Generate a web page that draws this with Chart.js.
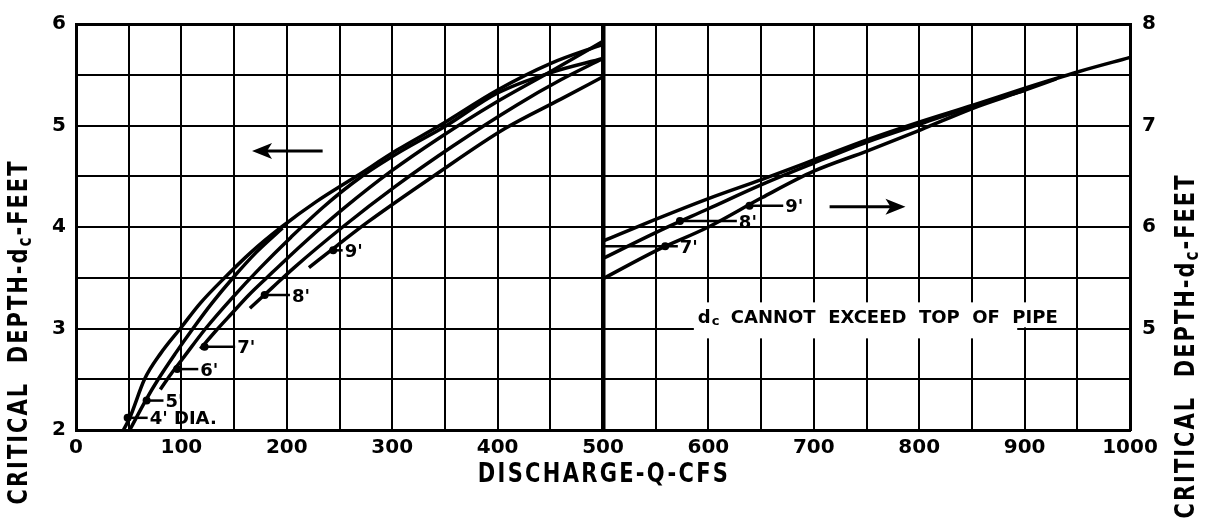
<!DOCTYPE html>
<html>
<head>
<meta charset="utf-8">
<script src="https://cdn.jsdelivr.net/npm/chart.js@4.4.1/dist/chart.umd.min.js"></script>
<style>
  body { margin: 0; background: #fff; }
</style>
</head>
<body>
<canvas id="myChart" width="1207" height="519"></canvas>
<script>
// discharge Q (cfs) and critical depth dc (ft), one pair per pipe size
// left half (Q 0-500), read on the left depth scale
const q4 = [45, 51, 65, 80, 99, 118, 141, 166, 195, 228, 266, 305, 345, 400, 450, 500];
const dc4 = [2.0, 2.12, 2.5, 2.75, 3.0, 3.25, 3.5, 3.75, 4.0, 4.25, 4.5, 4.76, 5.0, 5.35, 5.61, 5.8];
const q5 = [51, 66, 78, 94, 111, 129, 149, 171, 196];
const dc5 = [2.0, 2.29, 2.5, 2.75, 3.0, 3.25, 3.5, 3.75, 3.99];
const q6 = [80, 90, 101, 123, 148, 175, 204, 235, 270, 309, 350, 400, 450, 500];
const dc6 = [2.4, 2.55, 2.7, 3.0, 3.3, 3.6, 3.9, 4.2, 4.49, 4.75, 4.99, 5.32, 5.52, 5.66];
const q7 = [118, 133, 148, 164, 181, 217, 256, 299, 345, 397, 450, 500];
const dc7 = [2.8, 2.98, 3.15, 3.33, 3.5, 3.85, 4.2, 4.55, 4.88, 5.22, 5.53, 5.83];
const q8 = [165, 186, 207, 253, 303, 358, 418, 460, 500];
const dc8 = [3.2, 3.4, 3.6, 4.0, 4.4, 4.8, 5.2, 5.45, 5.66];
const q9 = [221, 248, 277, 339, 407, 460, 500];
const dc9 = [3.6, 3.82, 4.05, 4.5, 4.97, 5.26, 5.48];

// right half (Q 500-1000), read on the right depth scale
const q7r = [500, 551, 600, 651, 700, 751, 802, 851, 901, 951, 1000];
const dc7r = [5.86, 6.08, 6.28, 6.47, 6.66, 6.86, 7.04, 7.2, 7.37, 7.53, 7.67];
const q8r = [500, 551, 600, 651, 700, 751, 802, 851, 901];
const dc8r = [5.69, 5.95, 6.18, 6.42, 6.63, 6.84, 7.02, 7.19, 7.35];
const q9r = [500, 551, 600, 651, 700, 751, 802, 851, 901, 930];
const dc9r = [5.49, 5.77, 6.0, 6.29, 6.55, 6.75, 6.96, 7.17, 7.35, 7.46];

// pipe labels: name, dot (Q, dc), leader start and end (Q)
const leftNames = ["4' DIA.", "5'", "6'", "7'", "8'", "9'"];
const leftDotQ = [49, 67, 96, 122, 179, 244];
const leftDotDc = [2.12, 2.29, 2.6, 2.82, 3.33, 3.77];
const leftLeadQ = [68, 83, 116, 151, 203, 253];
const rightNames = ["7'", "8'", "9'"];
const rightDotQ = [559, 573, 639];
const rightDotDc = [5.81, 6.06, 6.21];
const rightLeadFrom = [500, 573, 639];
const rightLeadQ = [571, 627, 671];

const FONT = 'DejaVu Sans';

function toPoints(q, d) {
  return q.map((v, i) => ({ x: v, y: d[i] }));
}

const lineStyle = {
  borderColor: '#000',
  borderWidth: 3.5,
  pointRadius: 0,
  fill: false,
  cubicInterpolationMode: 'monotone'
};

// text pieces drawn in a row, centred, letters stretched a little in height
function drawParts(ctx, parts, cx, cy, angle, spacing, stretch) {
  ctx.save();
  ctx.translate(cx, cy);
  ctx.rotate(angle);
  ctx.scale(1, stretch);
  ctx.letterSpacing = spacing + 'px';
  ctx.textBaseline = 'middle';
  ctx.textAlign = 'left';
  const widths = parts.map(p => {
    ctx.font = 'bold ' + p[1] + 'px "' + FONT + '"';
    return ctx.measureText(p[0]).width;
  });
  let xpos = -widths.reduce((a, b) => a + b, 0) / 2;
  parts.forEach((p, i) => {
    ctx.font = 'bold ' + p[1] + 'px "' + FONT + '"';
    ctx.fillText(p[0], xpos, p[2]);
    xpos += widths[i];
  });
  ctx.restore();
}

function arrow(ctx, x0, y0, x1, y1) {
  const dir = Math.sign(x1 - x0);
  ctx.beginPath();
  ctx.moveTo(x0, y0);
  ctx.lineTo(x1 - dir * 10, y1);
  ctx.stroke();
  ctx.beginPath();
  ctx.moveTo(x1, y1);
  ctx.lineTo(x1 - dir * 20, y1 - 8);
  ctx.lineTo(x1 - dir * 15, y1);
  ctx.lineTo(x1 - dir * 20, y1 + 8);
  ctx.closePath();
  ctx.fill();
}

const chartDecor = {
  id: 'chartDecor',
  beforeDatasetsDraw(chart) {
    const { ctx, scales: { x, y2 } } = chart;
    // note sits on a white patch that breaks the grid
    ctx.save();
    ctx.font = 'bold 18px "' + FONT + '"';
    const note = 'CANNOT  EXCEED  TOP  OF  PIPE';
    const tx = x.getPixelForValue(590);
    const ty = y2.getPixelForValue(5.1);
    const dw = ctx.measureText('d').width;
    const w = dw + 20 + ctx.measureText(note).width;
    ctx.fillStyle = '#fff';
    ctx.fillRect(tx - 4, ty - 16, w + 8, 25);
    ctx.fillRect(tx - 4, ty + 8, x.getPixelForValue(893) - tx + 4, 12);
    ctx.fillStyle = '#000';
    ctx.textBaseline = 'middle';
    ctx.fillText('d', tx, ty);
    ctx.fillText(note, tx + dw + 20, ty);
    ctx.font = 'bold 13px "' + FONT + '"';
    ctx.fillText('c', tx + dw + 1, ty + 3);
    ctx.restore();
  },
  afterDatasetsDraw(chart) {
    const { ctx, scales: { x, y, y2 } } = chart;
    ctx.save();
    ctx.fillStyle = '#000';
    ctx.strokeStyle = '#000';
    ctx.lineWidth = 2.5;
    ctx.font = 'bold 18px "' + FONT + '"';
    ctx.textBaseline = 'middle';
    ctx.textAlign = 'left';
    const leader = (sy, name, dq, dd, fromQ, toQ) => {
      const py = sy.getPixelForValue(dd);
      const px = x.getPixelForValue(dq);
      ctx.beginPath();
      ctx.moveTo(x.getPixelForValue(fromQ), py);
      ctx.lineTo(x.getPixelForValue(toQ), py);
      ctx.stroke();
      ctx.beginPath();
      ctx.arc(px, py, 4, 0, Math.PI * 2);
      ctx.fill();
      ctx.fillText(name, x.getPixelForValue(toQ) + 2, py + 2);
    };
    leftNames.forEach((n, i) => leader(y, n, leftDotQ[i], leftDotDc[i], leftDotQ[i], leftLeadQ[i]));
    rightNames.forEach((n, i) => leader(y2, n, rightDotQ[i], rightDotDc[i], rightLeadFrom[i], rightLeadQ[i]));

    // direction arrows: left half reads the left scale, right half the right scale
    ctx.lineWidth = 3;
    arrow(ctx, x.getPixelForValue(234), y.getPixelForValue(4.75), x.getPixelForValue(167), y.getPixelForValue(4.75));
    arrow(ctx, x.getPixelForValue(715), y2.getPixelForValue(6.2), x.getPixelForValue(787), y2.getPixelForValue(6.2));

    // axis titles
    const title = [['CRITICAL  DEPTH-d', 21, 0], ['c', 15, 5], ['-FEET', 21, 0]];
    drawParts(ctx, title, 20, 332, -Math.PI / 2, 2, 1.25);
    drawParts(ctx, title, 1187, 346, -Math.PI / 2, 2, 1.25);
    drawParts(ctx, [['DISCHARGE-Q-CFS', 21, 0]], 604, 475, 0, 2.3, 1.25);
    ctx.restore();
  }
};

const tickFont = { family: FONT, size: 20, weight: 'bold' };

const ctx = document.getElementById('myChart').getContext('2d');
const myChart = new Chart(ctx, {
  type: 'line',
  data: {
    datasets: [
      { label: "4'", data: toPoints(q4, dc4), yAxisID: 'y', ...lineStyle },
      { label: "5'", data: toPoints(q5, dc5), yAxisID: 'y', ...lineStyle },
      { label: "6'", data: toPoints(q6, dc6), yAxisID: 'y', ...lineStyle },
      { label: "7'", data: toPoints(q7, dc7), yAxisID: 'y', ...lineStyle },
      { label: "8'", data: toPoints(q8, dc8), yAxisID: 'y', ...lineStyle },
      { label: "9'", data: toPoints(q9, dc9), yAxisID: 'y', ...lineStyle },
      { label: "7' (Q>500)", data: toPoints(q7r, dc7r), yAxisID: 'y2', ...lineStyle },
      { label: "8' (Q>500)", data: toPoints(q8r, dc8r), yAxisID: 'y2', ...lineStyle },
      { label: "9' (Q>500)", data: toPoints(q9r, dc9r), yAxisID: 'y2', ...lineStyle }
    ]
  },
  options: {
    responsive: false,
    animation: false,
    layout: { padding: { top: 18, left: 0, right: 0, bottom: 0 } },
    plugins: {
      legend: { display: false },
      tooltip: { enabled: false }
    },
    scales: {
      x: {
        type: 'linear',
        min: 0,
        max: 1000,
        ticks: {
          stepSize: 50,
          autoSkip: false,
          maxRotation: 0,
          padding: 6,
          color: '#000',
          font: tickFont,
          callback: v => (v % 100 === 0 ? String(v) : '')
        },
        grid: {
          color: '#000',
          lineWidth: c => (c.tick && c.tick.value === 500 ? 4.5 : 2),
          drawTicks: false
        },
        border: { color: '#000', width: 3 },
        afterFit(s) { s.height = 89; }
      },
      y: {
        type: 'linear',
        position: 'left',
        min: 2,
        max: 6,
        ticks: {
          stepSize: 0.5,
          padding: 10,
          color: '#000',
          font: tickFont,
          callback: v => (Number.isInteger(v) ? String(v) : '')
        },
        grid: {
          color: '#000',
          lineWidth: c => (c.tick && c.tick.value === 6 ? 3 : 2),
          drawTicks: false
        },
        border: { color: '#000', width: 3 },
        afterFit(s) { s.width = 76; }
      },
      y2: {
        type: 'linear',
        position: 'right',
        min: 4,
        max: 8,
        ticks: {
          stepSize: 0.5,
          padding: 12,
          color: '#000',
          font: tickFont,
          callback: v => (Number.isInteger(v) && v > 4 ? String(v) : '')
        },
        grid: { display: false, drawTicks: false },
        border: { color: '#000', width: 3 },
        afterFit(s) { s.width = 77; }
      }
    }
  },
  plugins: [chartDecor]
});
</script>
</body>
</html>
